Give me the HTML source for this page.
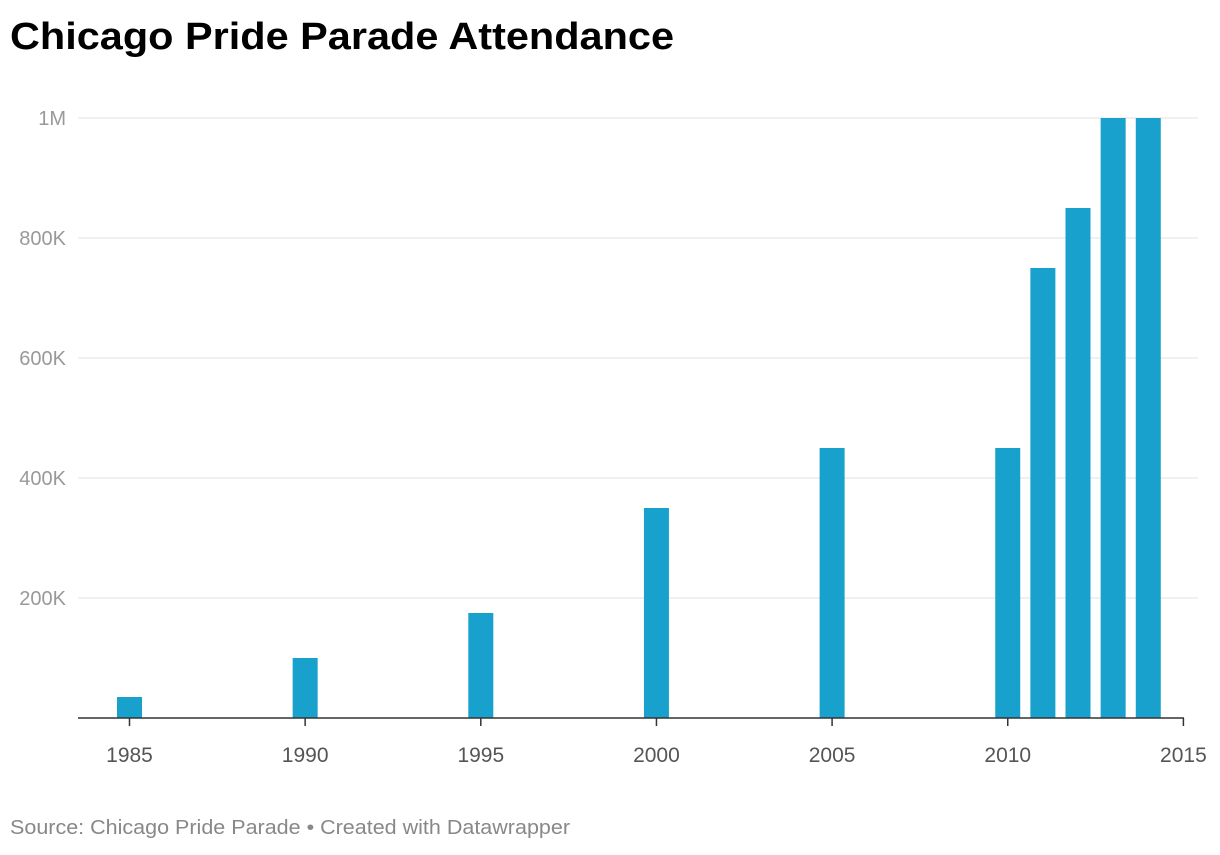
<!DOCTYPE html>
<html><head><meta charset="utf-8"><style>
body{margin:0;background:#fff;font-family:"Liberation Sans",sans-serif;}
</style></head><body>
<svg width="1220" height="850" xmlns="http://www.w3.org/2000/svg" id="svg">
<text x="10" y="49" font-size="38" font-weight="bold" fill="#000" textLength="664" lengthAdjust="spacingAndGlyphs">Chicago Pride Parade Attendance</text>
<text x="10" y="834" font-size="20" fill="#888" textLength="560" lengthAdjust="spacingAndGlyphs">Source: Chicago Pride Parade • Created with Datawrapper</text>
<g id="grid"></g><g id="bars"></g><g id="xaxis"></g>
</svg>
<script>
const years=[1985,1990,1995,2000,2005,2010,2011,2012,2013,2014];
const attendance=[35000,100000,175000,350000,450000,450000,750000,850000,1000000,1000000];
const yTicks=[200000,400000,600000,800000,1000000];
const yTickLabels=["200K","400K","600K","800K","1M"];
const xTicks=[1985,1990,1995,2000,2005,2010,2015];
const NS="http://www.w3.org/2000/svg";
const y=v=>718-v*600/1000000;
const x=yr=>129.5+(yr-1985)*35.13;
const svg=document.getElementById('svg');
function mk(t,a,p){const e=document.createElementNS(NS,t);for(const k in a)e.setAttribute(k,a[k]);p.appendChild(e);return e;}
const g=document.getElementById('grid');
yTicks.forEach((v,i)=>{
 const l=mk('line',{x1:78,x2:1198,y1:y(v),y2:y(v),stroke:'#e2e2e2','stroke-width':1},g);
 
 
 const t=mk('text',{x:66,y:y(v)+7,'text-anchor':'end','font-size':20,fill:'#999'},g);
 t.textContent=yTickLabels[i];
 
 
});
const b=document.getElementById('bars');
years.forEach((yr,i)=>{
 const r=mk('rect',{x:x(yr)-12.5,y:y(attendance[i]),width:25,height:718-y(attendance[i]),fill:'#18a1cd'},b);
 
 
});
const xa=document.getElementById('xaxis');
const al=mk('line',{x1:78,x2:1184,y1:718,y2:718,stroke:'#333','stroke-width':1.5},xa);


xTicks.forEach(yr=>{
 const tk=mk('line',{x1:x(yr),x2:x(yr),y1:718,y2:726,stroke:'#333','stroke-width':1.5},xa);
 
 
 const t=mk('text',{x:x(yr),y:762,'text-anchor':'middle','font-size':21,fill:'#555'},xa);
 t.textContent=yr;
 
 
});
</script>
</body></html>
